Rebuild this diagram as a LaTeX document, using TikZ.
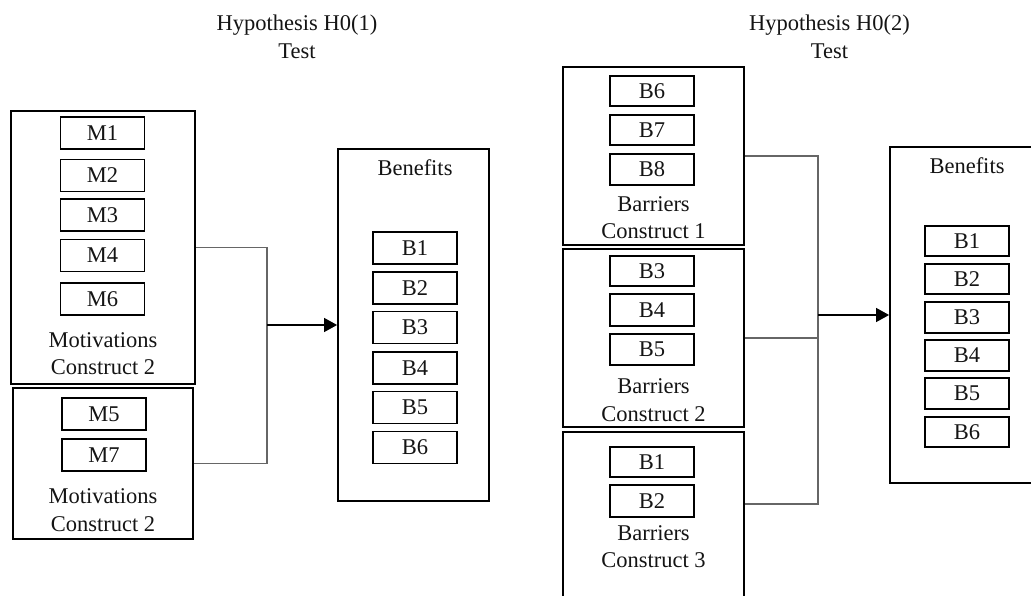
\documentclass[tikz,border=0pt]{standalone}
\usepackage{fontspec}
\setmainfont{Liberation Serif}
\usetikzlibrary{arrows.meta}
\tikzset{
  txt/.style={font=\fontsize{22.5}{27.5}\selectfont, text=black!92, inner sep=0pt, align=center},
  group/.style={draw, line width=1.8pt, inner sep=0pt},
  item/.style={draw, line width=1.8pt, txt, minimum width=84pt, minimum height=32pt},
  conn/.style={draw=black!60, line width=1.1pt},
  arr/.style={draw=black, line width=1.1pt, -{Triangle[length=13pt,width=14pt]}},
}
\begin{document}
\begin{tikzpicture}[x=1pt,y=-1pt]
\useasboundingbox (0,0) rectangle (1031,596);
\clip (0,0) rectangle (1031,596);

% ---- first hypothesis test ----
\node[txt] (t1) at (297,37) {Hypothesis H0(1)\\Test};

\node[group, minimum width=184pt, minimum height=273pt] (mc1) at (103,247.5) {};
\node[item] (m1) at (102.5,133) {M1};
\node[item] (m2) at (102.5,175.5) {M2};
\node[item] (m3) at (102.5,215) {M3};
\node[item] (m4) at (102.5,255.5) {M4};
\node[item] (m6) at (102.5,299) {M6};
\node[txt] (lm1) at (103,353.5) {Motivations\\Construct 2};

\node[group, minimum width=180pt, minimum height=151pt] (mc2) at (103,463.5) {};
\node[item] (m5) at (104,414) {M5};
\node[item] (m7) at (104,455) {M7};
\node[txt] (lm2) at (103,510.3) {Motivations\\Construct 2};

\node[group, minimum width=151pt, minimum height=352pt] (ben1) at (413.5,325) {};
\node[txt] (lb1) at (415,168) {Benefits};
\node[item] (p1) at (415,248) {B1};
\node[item] (p2) at (415,288) {B2};
\node[item] (p3) at (415,327.5) {B3};
\node[item] (p4) at (415,368) {B4};
\node[item] (p5) at (415,407.5) {B5};
\node[item] (p6) at (415,447.5) {B6};

\coordinate (jl) at (267,325);
\draw[conn] (mc1.east) -| (jl) |- (mc2.east);
\draw[arr] (jl) -- (ben1.west);

% ---- second hypothesis test ----
\node[txt] (t2) at (829.5,37) {Hypothesis H0(2)\\Test};

\node[group, minimum width=181pt, minimum height=178pt] (bc1) at (653.5,156) {};
\node[item, minimum height=30pt] (q6) at (652,91) {B6};
\node[item, minimum height=30pt] (q7) at (652,130) {B7};
\node[item, minimum height=31pt] (q8) at (652,169.5) {B8};
\node[txt] (lc1) at (653.5,217.7) {Barriers\\Construct 1};

\node[group, minimum width=181pt, minimum height=178pt] (bc2) at (653.5,338) {};
\node[item, minimum height=30pt] (q3) at (652,271) {B3};
\node[item, minimum height=32pt] (q4) at (652,310) {B4};
\node[item, minimum height=31pt] (q5) at (652,349.5) {B5};
\node[txt] (lc2) at (653.5,400.3) {Barriers\\Construct 2};

\node[group, minimum width=181pt, minimum height=188pt] (bc3) at (653.5,526) {};
\node[item, minimum height=30pt] (q1) at (652,462) {B1};
\node[item, minimum height=32pt] (q2) at (652,501) {B2};
\node[txt] (lc3) at (653.5,546.8) {Barriers\\Construct 3};

\node[group, minimum width=160pt, minimum height=336pt] (ben2) at (970,315) {};
\node[txt] (lb2) at (967,166) {Benefits};
\node[item, minimum height=30pt] (r1) at (967,241) {B1};
\node[item, minimum height=30pt] (r2) at (967,279) {B2};
\node[item, minimum height=31pt] (r3) at (967,317.5) {B3};
\node[item, minimum height=31pt] (r4) at (967,355.5) {B4};
\node[item, minimum height=31pt] (r5) at (967,393.5) {B5};
\node[item, minimum height=30pt] (r6) at (967,432) {B6};

\coordinate (jr) at (818,315);
\draw[conn] (bc1.east) -| (jr) |- ([yshift=22pt]bc3.east);
\draw[conn] (bc2.east) -- (bc2.east -| jr);
\draw[arr] (jr) -- (ben2.west);
\end{tikzpicture}
\end{document}
